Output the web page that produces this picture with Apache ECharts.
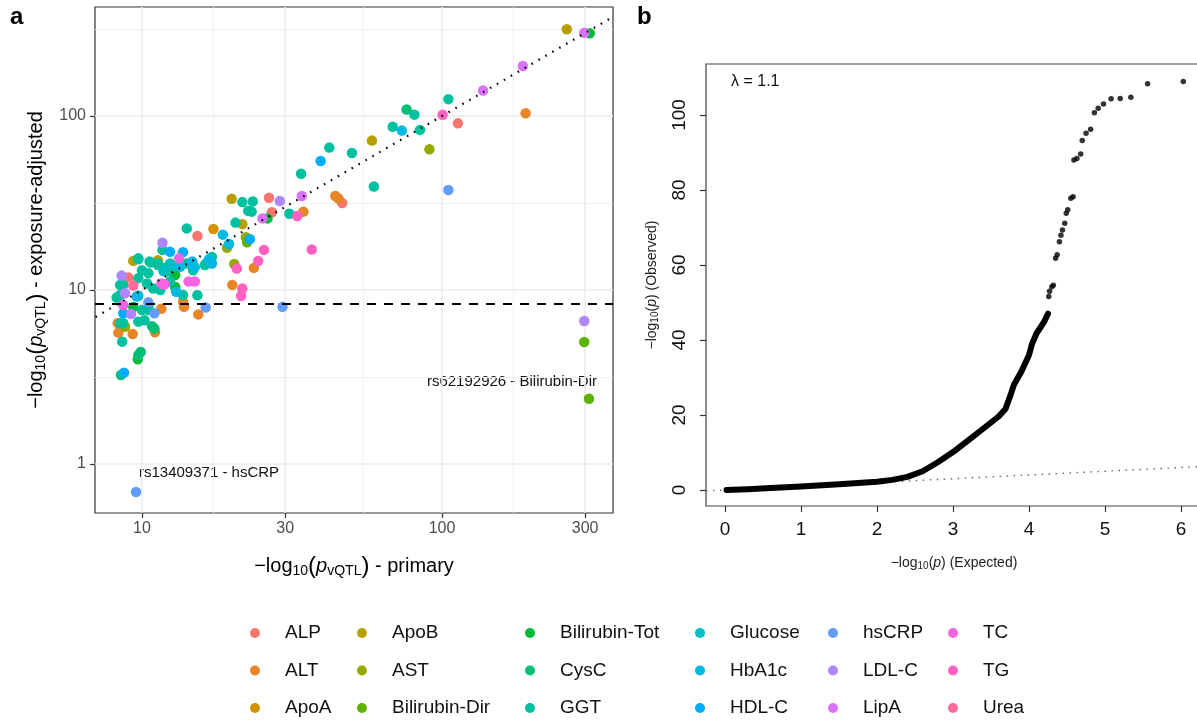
<!DOCTYPE html>
<html>
<head>
<meta charset="utf-8">
<script src="https://cdn.jsdelivr.net/npm/echarts@6/dist/echarts.min.js"></script>
<style>
html,body{margin:0;padding:0;background:#fff;}
#main{width:1197px;height:721px;}
</style>
</head>
<body>
<div id="main"></div>
<script>
// categories (legend order)
var categories = ['ALP','ALT','ApoA','ApoB','AST','Bilirubin-Dir','Bilirubin-Tot','CysC','GGT',
  'Glucose','HbA1c','HDL-C','hsCRP','LDL-C','LipA','TC','TG','Urea'];

// panel a: [-log10 p primary, -log10 p exposure-adjusted]
var ALP = [[113,90.7],[26.5,33.9],[46.5,31.6],[27.1,28.0],[15.3,20.4],[9.0,11.8]];
var ALT = [[190,103.7],[44.1,34.7],[45.2,33.6],[34.5,28.2],[23.6,13.4],[20,10.7],[13.7,8.6],[13.8,8.0],
  [15.4,7.24],[11.6,7.8],[8.34,5.69],[9.31,5.59],[11.05,5.71],[8.3,6.45]];
var ApoA = [[17.3,22.4]];
var ApoB = [[260.6,315],[58.4,72.2],[19.9,33.4],[21.6,23.9],[9.35,14.7],[11.3,14.8]];
var AST = [[90.8,64.4],[22.2,20.1],[19.2,17.5],[20.3,14.1],[8.78,6.15]];
var BilirubinDir = [[298,5.02],[309,2.37],[22.4,18.8]];
var BilirubinTot = [[311,299],[26.2,25.8],[12.9,12.2],[12.9,10.4],[9.35,7.99],[9.68,4.0]];
var CysC = [[76.2,109],[9.72,4.23],[9.9,4.4],[8.51,3.25],[10.8,6.19],[11.0,6.0]];
var GGT = [[105,125],[80.9,101.8],[84.5,83.2],[68.5,86.8],[42.1,65.8],[50.1,61.3],[59.3,39.3],[33.9,46.6],
  [21.6,32.0],[23.4,32.3],[22.6,28.5],[23.2,28.2],[31,27.4],[20.5,24.4],[14.1,22.6],[16.3,14.1],[15.3,9.33],
  [11.7,17.0],[9.72,15.2],[9.72,15.0],[10.6,14.6],[10.7,14.4],[11.3,13.9],[11.3,14.2],[11.8,13.4],[12.2,12.8],
  [12.4,14.2],[12.7,13.6],[14.1,14.2],[14.8,13.0],[17.1,15.5],[16.2,13.9],[8.45,10.7],[8.66,10.7],[10.9,10.2],
  [8.45,9.36],[9.72,11.7],[10.0,13.0],[10.5,12.5],[10.4,10.9],[12.4,11.2],[11.5,10.0],[13.7,9.36],[8.23,9.04],
  [10.0,7.67],[10.5,7.67],[10.5,8.0],[8.45,6.44],[8.66,6.44],[9.72,6.58],[10.2,6.7],[8.59,5.05]];
var Glucose = [[9.72,9.27],[12.5,14.0],[11.8,12.8]];
var HbA1c = [[73.5,82.4],[18.6,20.8],[19.5,18.4],[16.7,15.0],[17.1,14.2],[14.6,14.2],[13.0,9.77],[14.7,14.6],
  [15.0,13.5],[13.4,13.6],[9.6,9.17]];
var HDLC = [[39.4,55.1],[22.9,19.6],[12.4,16.6],[13.7,16.5],[8.66,7.35],[8.71,3.35]];
var hsCRP = [[105,37.6],[29.4,8.0],[16.3,7.94],[10.5,8.49],[11.0,7.35],[9.55,0.69]];
var LDLC = [[298,6.64],[28.8,32.5],[11.7,18.7],[8.55,12.1],[8.78,9.58],[9.19,7.27]];
var LipA = [[298,301],[186,194],[137,140],[34.1,34.7],[25.2,25.8]];
var TC = [[13.3,15.2],[11.6,10.9],[11.9,10.8],[14.3,11.2],[15.0,11.2],[8.66,8.2]];
var TG = [[100.5,101.7],[32.9,26.6],[25.5,17.0],[24.4,14.7],[20.7,13.3],[36.8,17.1],[21.6,10.2],[21.4,9.24]];
var Urea = [[9.35,10.6]];

var xTicksA = [10, 30, 100, 300];
var yTicksA = [1, 10, 100];
var threshold = 8.3;
var identityA = [7, 371];

// panel b: QQ plot
var curveB = [[0.02,0],[0.3,0.2],[0.6,0.5],[1.0,0.9],[1.5,1.5],[2.0,2.2],[2.2,2.7],[2.4,3.5],[2.6,5.0],
  [2.8,7.4],[3.0,10.1],[3.2,13.2],[3.4,16.4],[3.6,19.6],[3.69,21.6],[3.76,25.5],[3.8,28],[3.9,31.6],
  [4.0,36],[4.04,39],[4.1,41.8],[4.2,44.9],[4.25,47]];
var dotsB = [[4.26,51.6],[4.27,53],[4.30,54.2],[4.32,54.6],[4.35,61.8],[4.37,62.7],[4.40,66.2],[4.42,67.9],
  [4.44,69.3],[4.47,71.1],[4.49,73.8],[4.51,74.7],[4.55,77.8],[4.58,78.2],[4.59,88.0],[4.63,88.4],
  [4.68,89.6],[4.70,93.2],[4.75,95.1],[4.81,96.2],[4.86,100.6],[4.91,101.8],[4.98,102.9],[5.08,104.3],
  [5.20,104.4],[5.34,104.7],[5.56,108.3],[6.03,108.9]];
var diagB = [[-0.25,-0.25],[6.3,6.3]];
var xTicksB = [0, 1, 2, 3, 4, 5, 6];
var yTicksB = [0, 20, 40, 60, 80, 100];

var dataA = [ALP, ALT, ApoA, ApoB, AST, BilirubinDir, BilirubinTot, CysC, GGT, Glucose, HbA1c, HDLC,
  hsCRP, LDLC, LipA, TC, TG, Urea];

var F = '"Liberation Sans", Arial, sans-serif';

// ggplot default hue palette
function hcl(h, c, l) {
  var hr = h * Math.PI / 180;
  var U = c * Math.cos(hr), V = c * Math.sin(hr);
  var Y = 100 * (l > 7.999592 ? Math.pow((l + 16) / 116, 3) : l / 903.3);
  var u = U / (13 * l) + 0.1978398, v = V / (13 * l) + 0.4683363;
  var X = 9 * Y * u / (4 * v);
  var Z = -X / 3 - 5 * Y + 3 * Y / v;
  function g(t) {
    t = t > 0.00304 ? 1.055 * Math.pow(t, 1 / 2.4) - 0.055 : 12.92 * t;
    var n = Math.round(255 * Math.max(0, Math.min(1, t)));
    return (n < 16 ? '0' : '') + n.toString(16);
  }
  return '#' + g((3.240479 * X - 1.537150 * Y - 0.498535 * Z) / 100) +
    g((-0.969256 * X + 1.875992 * Y + 0.041556 * Z) / 100) +
    g((0.055648 * X - 0.204043 * Y + 1.057311 * Z) / 100);
}
var colors = categories.map(function (c, i) { return hcl(15 + i * 20, 100, 65); });

function lg(v) { return Math.log10(v); }
function mids(arr) {
  var out = [];
  for (var i = 0; i < arr.length - 1; i++) out.push((arr[i] + arr[i + 1]) / 2);
  return out;
}
var xTA = xTicksA.map(lg), yTA = yTicksA.map(lg);
var xMinA = 0.8433, xMaxA = 2.57, yMinA = -0.2816, yMaxA = 2.6264;
var fmtPow = function (v) { return String(Math.round(Math.pow(10, v))); };

var series = [];
categories.forEach(function (name, i) {
  series.push({
    name: name, type: 'scatter', xAxisIndex: 0, yAxisIndex: 0, z: 2,
    symbol: 'circle', symbolSize: 10.5,
    itemStyle: { color: colors[i], opacity: 1 },
    data: dataA[i].map(function (p) { return [lg(p[0]), lg(p[1])]; })
  });
});
series.push({
  type: 'line', xAxisIndex: 0, yAxisIndex: 0, z: 5, silent: true, showSymbol: false,
  data: identityA.map(function (v) { return [lg(v), lg(v)]; }),
  lineStyle: { color: '#000', width: 2.2, type: [1.6, 6.4] },
  markLine: {
    silent: true, symbol: 'none', label: { show: false },
    lineStyle: { color: '#000', width: 2, type: [9, 8] },
    data: [{ yAxis: lg(threshold) }]
  }
});
series.push({
  type: 'line', xAxisIndex: 2, yAxisIndex: 2, z: 2, silent: true, showSymbol: false,
  data: diagB, lineStyle: { color: '#666', width: 1.4, type: [1.5, 5.5] }
});
series.push({
  type: 'line', xAxisIndex: 2, yAxisIndex: 2, z: 3, silent: true, showSymbol: false,
  data: curveB, lineStyle: { color: '#000', width: 6, cap: 'round', join: 'round' }
});
series.push({
  type: 'scatter', xAxisIndex: 2, yAxisIndex: 2, z: 3, silent: true,
  symbol: 'circle', symbolSize: 5.5, itemStyle: { color: '#000' }, data: dotsB
});

// legend: 3 rows per column, filled column by column
var legendLeft = [250, 357, 525, 695, 828, 948];
var legends = legendLeft.map(function (left, k) {
  return {
    orient: 'vertical', left: left, top: 623, padding: 0,
    itemWidth: 10, itemHeight: 10, itemGap: 17.5, icon: 'circle', selectedMode: false,
    textStyle: { fontSize: 19, fontFamily: F, color: '#111', lineHeight: 20, padding: [0, 0, 0, 20] },
    data: categories.slice(k * 3, k * 3 + 3)
  };
});

var richA = {
  n: { fontSize: 20, fontFamily: F, fill: '#000' },
  s: { fontSize: 14, fontFamily: F, fill: '#000', padding: [11, 0, 0, 0] },
  b: { fontSize: 24, fontFamily: F, fill: '#000' },
  i: { fontSize: 20, fontFamily: F, fontStyle: 'italic', fill: '#000' }
};
var richB = {
  n: { fontSize: 14, fontFamily: F, fill: '#222' },
  s: { fontSize: 10, fontFamily: F, fill: '#222', padding: [7, 0, 0, 0] },
  i: { fontSize: 14, fontFamily: F, fontStyle: 'italic', fill: '#222' }
};

var chart = echarts.init(document.getElementById('main'));
chart.setOption({
  animation: false,
  backgroundColor: '#fff',
  grid: [
    { left: 95, top: 7, width: 518, height: 506, show: true, borderColor: '#333', borderWidth: 1.2, outerBoundsMode: 'none' },
    { left: 706, top: 64, width: 496, height: 442, show: true, borderColor: '#444', borderWidth: 1.2, outerBoundsMode: 'none' }
  ],
  xAxis: [
    { gridIndex: 0, type: 'value', min: xMinA, max: xMaxA,
      axisLine: { show: false, onZero: false },
      axisTick: { show: true, length: 5, lineStyle: { color: '#333', width: 1.2 }, customValues: xTA },
      axisLabel: { customValues: xTA, formatter: fmtPow, color: '#4D4D4D', fontSize: 16, fontFamily: F, margin: 8 },
      splitLine: { show: true, lineStyle: { color: '#EBEBEB', width: 1.5 } } },
    { gridIndex: 0, type: 'value', min: xMinA, max: xMaxA, position: 'top',
      axisLine: { show: false, onZero: false }, axisTick: { show: false, customValues: mids(xTA) },
      axisLabel: { show: false }, splitLine: { show: true, lineStyle: { color: '#EFEFEF', width: 0.9 } } },
    { gridIndex: 1, type: 'value', min: -0.25, max: 6.276,
      axisLine: { show: false, onZero: false },
      axisTick: { show: true, length: 6, lineStyle: { color: '#333', width: 1.2 }, customValues: xTicksB },
      axisLabel: { customValues: xTicksB, color: '#111', fontSize: 19, fontFamily: F, margin: 14 },
      splitLine: { show: false } }
  ],
  yAxis: [
    { gridIndex: 0, type: 'value', min: yMinA, max: yMaxA,
      axisLine: { show: false, onZero: false },
      axisTick: { show: true, length: 5, lineStyle: { color: '#333', width: 1.2 }, customValues: yTA },
      axisLabel: { customValues: yTA, formatter: fmtPow, color: '#4D4D4D', fontSize: 16, fontFamily: F, margin: 9 },
      splitLine: { show: true, lineStyle: { color: '#EBEBEB', width: 1.5 } } },
    { gridIndex: 0, type: 'value', min: yMinA, max: yMaxA, position: 'right',
      axisLine: { show: false, onZero: false }, axisTick: { show: false, customValues: mids(yTA).concat([2.5]) },
      axisLabel: { show: false }, splitLine: { show: true, lineStyle: { color: '#EFEFEF', width: 0.9 } } },
    { gridIndex: 1, type: 'value', min: -4.27, max: 113.6,
      axisLine: { show: false, onZero: false },
      axisTick: { show: true, length: 6, lineStyle: { color: '#333', width: 1.2 }, customValues: yTicksB },
      axisLabel: { customValues: yTicksB, rotate: 90, color: '#111', fontSize: 19, fontFamily: F, margin: 17 },
      splitLine: { show: false } }
  ],
  legend: legends,
  series: series,
  graphic: [
    { type: 'text', left: 10, top: 5, style: { text: 'a', font: 'bold 24px ' + F, fill: '#000' } },
    { type: 'text', left: 637, top: 5, style: { text: 'b', font: 'bold 24px ' + F, fill: '#000' } },
    { type: 'text', x: 354, y: 566, style: { text: '{n|\u2212log}{s|10}{b|(}{i|p}{s|vQTL}{b|)}{n| - primary}',
        rich: richA, align: 'center', verticalAlign: 'middle' } },
    { type: 'text', x: 36, y: 260, rotation: Math.PI / 2,
      style: { text: '{n|\u2212log}{s|10}{b|(}{i|p}{s|vQTL}{b|)}{n| - exposure-adjusted}',
        rich: richA, align: 'center', verticalAlign: 'middle' } },
    { type: 'text', x: 139, y: 473, style: { text: 'rs13409371 - hsCRP', fontSize: 15, fontFamily: F,
        fill: '#111', align: 'left', verticalAlign: 'middle' } },
    { type: 'text', x: 597, y: 382, style: { text: 'rs62192926 - Bilirubin-Dir', fontSize: 15, fontFamily: F,
        fill: '#111', align: 'right', verticalAlign: 'middle' } },
    { type: 'text', x: 731, y: 82, style: { text: '\u03bb = 1.1', fontSize: 16, fontFamily: F,
        fill: '#111', align: 'left', verticalAlign: 'middle' } },
    { type: 'text', x: 954, y: 563, style: { text: '{n|\u2212log}{s|10}{n|(}{i|p}{n|) (Expected)}',
        rich: richB, align: 'center', verticalAlign: 'middle' } },
    { type: 'text', x: 652, y: 285, rotation: Math.PI / 2,
      style: { text: '{n|\u2212log}{s|10}{n|(}{i|p}{n|) (Observed)}',
        rich: richB, align: 'center', verticalAlign: 'middle' } }
  ]
});
</script>
</body>
</html>
